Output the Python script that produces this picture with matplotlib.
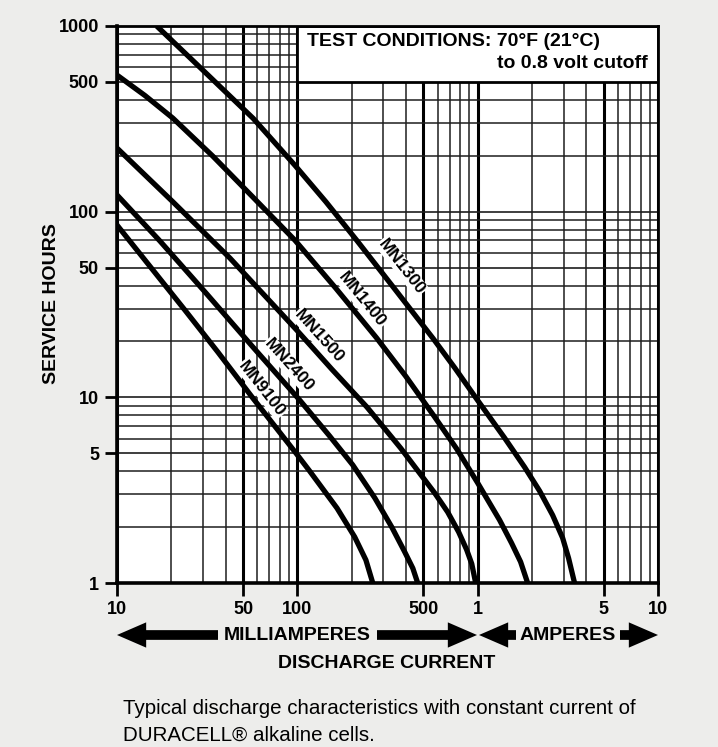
import matplotlib
matplotlib.use('Agg')
import matplotlib.pyplot as plt
from matplotlib.patches import Rectangle, FancyArrowPatch
from matplotlib.ticker import FixedLocator, NullFormatter

# Discharge current (mA) vs service hours
mn1300_ma = [16.6, 30.7, 56.9, 96.8, 144, 213, 347, 565, 747, 988, 1411, 1820, 2206, 2604, 2958, 3193, 3446]
mn1300_h = [1000, 565, 318, 178, 113, 70.3, 38.3, 20.8, 14.4, 9.79, 6.04, 4.21, 3.13, 2.32, 1.75, 1.36, 1.0]
mn1400_ma = [10, 14.3, 20.4, 34.0, 56.6, 96.8, 163, 275, 399, 578, 766, 1000, 1324, 1542, 1730, 1893]
mn1400_h = [544, 422, 319, 199, 120, 70.3, 38.8, 20.9, 13.0, 7.83, 5.27, 3.46, 2.18, 1.64, 1.30, 1.0]
mn1500_ma = [10, 20.4, 42.3, 99.3, 155, 243, 374, 578, 682, 785, 869, 927, 975]
mn1500_h = [220, 113, 56.2, 23.0, 14.2, 8.87, 5.33, 3.05, 2.41, 1.88, 1.51, 1.27, 1.0]
mn2400_ma = [10, 17.3, 31.1, 56.6, 103, 151, 203, 269, 334, 394, 437, 465]
mn2400_h = [123, 69.5, 36.5, 18.7, 9.67, 6.19, 4.32, 2.87, 2.00, 1.47, 1.20, 1.0]
mn9100_ma = [10, 15.2, 23.8, 36.3, 56.6, 98.2, 117, 166, 208, 240, 262]
mn9100_h = [84.7, 50.9, 29.5, 17.5, 9.92, 5.01, 4.01, 2.53, 1.77, 1.33, 1.0]

cell_names = ['MN1300', 'MN1400', 'MN1500', 'MN2400', 'MN9100']
# where each name sits on the chart (mA, hours)
label_ma = [379, 227, 131.5, 89.8, 63.4]
label_h = [50.6, 33.4, 21.2, 14.9, 11.1]
label_rot = [-52, -51, -48, -48, -52]

x_ticks = [10, 50, 100, 500, 1000, 5000, 10000]
x_tick_labels = ['10', '50', '100', '500', '1', '5', '10']
y_ticks = [1, 5, 10, 50, 100, 500, 1000]
y_tick_labels = ['1', '5', '10', '50', '100', '500', '1000']

W, H = 718, 747
PAPER = '#ededeb'
BOLD = dict(family='Liberation Sans', fontweight='bold', color='black')


def fx(px):
    return px / W


def fy(py):
    return 1 - py / H


fig = plt.figure(figsize=(W / 100, H / 100), dpi=100, facecolor=PAPER)
ax = fig.add_axes([fx(117), fy(583), fx(658) - fx(117), fy(26) - fy(583)])
ax.set_facecolor('white')
ax.set_xscale('log')
ax.set_yscale('log')
ax.set_xlim(10, 10000)
ax.set_ylim(1, 1000)

# chart-paper grid
minor_x = [m * d for d in [10, 100, 1000] for m in range(2, 10) if m * d not in x_ticks]
minor_y = [m * d for d in [1, 10, 100] for m in range(2, 10) if m * d not in y_ticks]
ax.xaxis.set_major_locator(FixedLocator(x_ticks))
ax.yaxis.set_major_locator(FixedLocator(y_ticks))
ax.xaxis.set_minor_locator(FixedLocator(minor_x))
ax.yaxis.set_minor_locator(FixedLocator(minor_y))
ax.xaxis.set_minor_formatter(NullFormatter())
ax.yaxis.set_minor_formatter(NullFormatter())
ax.set_xticklabels(x_tick_labels, fontsize=13, **BOLD)
ax.set_yticklabels(y_tick_labels, fontsize=13, **BOLD)

ax.set_axisbelow(True)
ax.grid(True, which='minor', color='#1e1e1e', linewidth=1.1)
ax.grid(True, which='major', axis='y', color='#1e1e1e', linewidth=1.2)
ax.grid(True, which='major', axis='x', color='black', linewidth=2.2)

ax.tick_params(which='major', direction='out', length=9, width=2, pad=4, color='black')
ax.tick_params(which='minor', length=0)
for side in ['left', 'bottom']:
    ax.spines[side].set_linewidth(2.6)
for side in ['top', 'right']:
    ax.spines[side].set_linewidth(2.0)

# test conditions box (covers the grid)
ax.add_patch(Rectangle((100, 500), 10000 - 100, 1000 - 500, facecolor='white',
                       edgecolor='black', linewidth=2.0, zorder=1.5))
fig.text(fx(307), fy(41), 'TEST CONDITIONS: 70°F (21°C)', fontsize=14,
         ha='left', va='center', **BOLD)
fig.text(fx(648), fy(63), 'to 0.8 volt cutoff', fontsize=14,
         ha='right', va='center', **BOLD)

# discharge curves
series = [(mn1300_ma, mn1300_h), (mn1400_ma, mn1400_h), (mn1500_ma, mn1500_h),
          (mn2400_ma, mn2400_h), (mn9100_ma, mn9100_h)]
for (xs, ys) in series:
    ax.plot(xs, ys, color='black', linewidth=3.8, solid_capstyle='butt',
            solid_joinstyle='round', zorder=3)

# names sit on white patches that blank the grid, under the curves
for name, lx, ly, rot in zip(cell_names, label_ma, label_h, label_rot):
    ax.text(lx, ly, name, rotation=rot, rotation_mode='anchor', ha='center',
            va='center', fontsize=12.5, zorder=2.8,
            bbox=dict(facecolor='white', edgecolor='none', pad=0.6), **BOLD)

# axis titles
fig.text(fx(52), fy(304), 'SERVICE HOURS', rotation=90, fontsize=14,
         ha='center', va='center', **BOLD)

arrow_style = 'simple,head_length=1.5,head_width=1.3,tail_width=0.5'
arrows = [((218, 635), (117, 635)), ((377, 635), (477, 635)),
          ((516, 635), (479, 635)), ((620, 635), (658, 635))]
for (tail, tip) in arrows:
    fig.add_artist(FancyArrowPatch(
        (fx(tail[0]), fy(tail[1])), (fx(tip[0]), fy(tip[1])),
        transform=fig.transFigure, arrowstyle=arrow_style, mutation_scale=14,
        color='black', linewidth=0, shrinkA=0, shrinkB=0))

fig.text(fx(297), fy(635), 'MILLIAMPERES', fontsize=14, ha='center', va='center', **BOLD)
fig.text(fx(568), fy(635), 'AMPERES', fontsize=14, ha='center', va='center', **BOLD)
fig.text(fx(387), fy(664), 'DISCHARGE CURRENT', fontsize=14, ha='center', va='center', **BOLD)

fig.text(fx(123), fy(708), 'Typical discharge characteristics with constant current of',
         fontsize=14.8, family='Liberation Sans', ha='left', va='center')
fig.text(fx(123), fy(735), 'DURACELL® alkaline cells.',
         fontsize=14.8, family='Liberation Sans', ha='left', va='center')

fig.savefig('out.png', dpi=100, facecolor=PAPER)
